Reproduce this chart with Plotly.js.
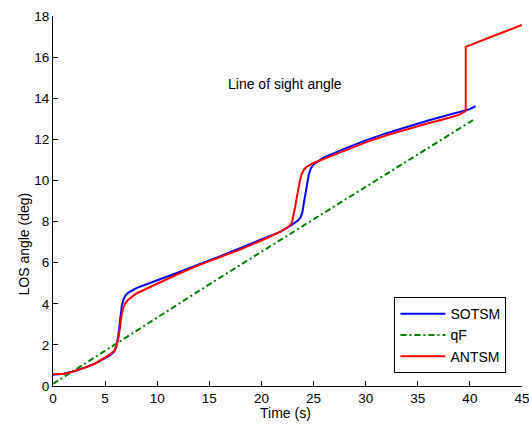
<!DOCTYPE html>
<html>
<head>
<meta charset="utf-8">
<script src="https://cdn.plot.ly/plotly-3.0.1.min.js"></script>
<style>html,body{margin:0;padding:0;background:#fff}#chart{width:529px;height:426px}</style>
</head>
<body>
<div id="chart"></div>
<script>
// SOTSM (blue)
var sotsmT = [0,0.5,1,1.5,2,3,4,5,5.5,5.9,6.1,6.25,6.4,6.5,6.6,6.75,6.95,7.2,7.6,8.0,8.4,9,10,12,14,16,18,20,21.8,22.8,23.2,23.5,23.75,23.95,24.1,24.25,24.4,24.55,24.75,25.0,25.35,26,28,30,32,34,36,38,40,40.55];
var sotsmY = [0.55,0.56,0.6,0.66,0.72,0.88,1.08,1.35,1.5,1.7,1.95,2.4,3.1,3.55,3.9,4.2,4.4,4.53,4.66,4.76,4.84,4.95,5.12,5.52,5.92,6.3,6.72,7.12,7.5,7.8,7.93,8.05,8.2,8.5,9.0,9.5,9.95,10.3,10.6,10.78,10.9,11.12,11.55,11.95,12.3,12.62,12.92,13.2,13.47,13.62];
// qF (green dash-dot)
var qfT = [0,15.76,29.5,40.5];
var qfY = [0.1,5.19,9.53,13.0];
// ANTSM (red)
var antsmT = [0,0.5,1,1.5,2,3,4,5,5.5,5.9,6.1,6.3,6.45,6.6,6.75,6.95,7.2,7.5,7.8,8.2,8.7,9.3,10,11,12,14,16,18,20,21.8,22.5,22.8,22.95,23.1,23.25,23.4,23.55,23.7,23.85,24.05,24.3,24.65,25,26,28,30,32,34,36,38,39,39.6,39.6,42,45];
var antsmY = [0.58,0.58,0.58,0.64,0.72,0.88,1.08,1.38,1.55,1.72,1.95,2.4,3.0,3.5,3.8,4.03,4.18,4.32,4.43,4.55,4.67,4.8,4.95,5.2,5.45,5.88,6.25,6.65,7.08,7.5,7.72,7.85,8.0,8.3,8.75,9.2,9.65,10.0,10.3,10.5,10.65,10.77,10.85,11.05,11.45,11.85,12.2,12.5,12.78,13.05,13.2,13.38,16.5,16.98,17.56];

var xTicks = [0,5,10,15,20,25,30,35,40,45];
var yTicks = [0,2,4,6,8,10,12,14,16,18];

var FONT = 'Arial, "Liberation Sans", sans-serif';

var traces = [
  {x: sotsmT, y: sotsmY, name: 'SOTSM', type: 'scatter', mode: 'lines', line: {color: '#0000ff', width: 2}},
  {x: qfT, y: qfY, name: 'qF', type: 'scatter', mode: 'lines', line: {color: '#008000', width: 2, dash: '6px,3px,2px,3px'}},
  {x: antsmT, y: antsmY, name: 'ANTSM', type: 'scatter', mode: 'lines', line: {color: '#ff0000', width: 2}}
];

var axisCommon = {
  showgrid: false, zeroline: false, showline: true, linecolor: '#000', linewidth: 1,
  ticks: 'inside', ticklen: 5, tickcolor: '#000', tickwidth: 1, mirror: false,
  ticklabeloverflow: 'allow',
  tickfont: {family: FONT, size: 13.5, color: '#000'}
};

var layout = {
  width: 529, height: 426,
  margin: {l: 52.5, r: 7.3, t: 16, b: 40},
  paper_bgcolor: '#fff', plot_bgcolor: '#fff',
  font: {family: FONT, size: 14, color: '#000'},
  xaxis: Object.assign({}, axisCommon, {range: [0, 45], tickvals: xTicks, ticktext: xTicks.map(String)}),
  yaxis: Object.assign({}, axisCommon, {range: [0, 18], tickvals: yTicks, ticktext: yTicks.map(String)}),
  showlegend: true,
  legend: {x: 0.728, y: 0.24, xanchor: 'left', yanchor: 'top', bgcolor: '#fff', bordercolor: '#000', borderwidth: 1,
           itemwidth: 45, font: {family: FONT, size: 14, color: '#000'}},
  annotations: [
    {text: 'Line of sight angle', x: 22.3, y: 14.7, xref: 'x', yref: 'y', xanchor: 'center', yanchor: 'middle', showarrow: false, font: {family: FONT, size: 14, color: '#000'}},
    {text: 'Time (s)', x: 285, y: 412.5, xref: 'paper', yref: 'paper', xanchor: 'center', yanchor: 'middle', showarrow: false, font: {family: FONT, size: 14, color: '#000'}},
    {text: 'LOS angle (deg)', x: 23, y: 244, xref: 'paper', yref: 'paper', xanchor: 'center', yanchor: 'middle', showarrow: false, textangle: -90, font: {family: FONT, size: 14, color: '#000'}}
  ]
};
// convert pixel positions of axis-title annotations into paper coordinates
(function(){
  var pl = 52.5, pw = 529 - 52.5 - 7.3, pt = 16, ph = 426 - 16 - 40;
  var a1 = layout.annotations[1], a2 = layout.annotations[2];
  a1.x = (a1.x - pl) / pw; a1.y = (pt + ph - a1.y) / ph;
  a2.x = (a2.x - pl) / pw; a2.y = (pt + ph - a2.y) / ph;
})();

Plotly.newPlot('chart', traces, layout, {displayModeBar: false, staticPlot: true});
</script>
</body>
</html>
